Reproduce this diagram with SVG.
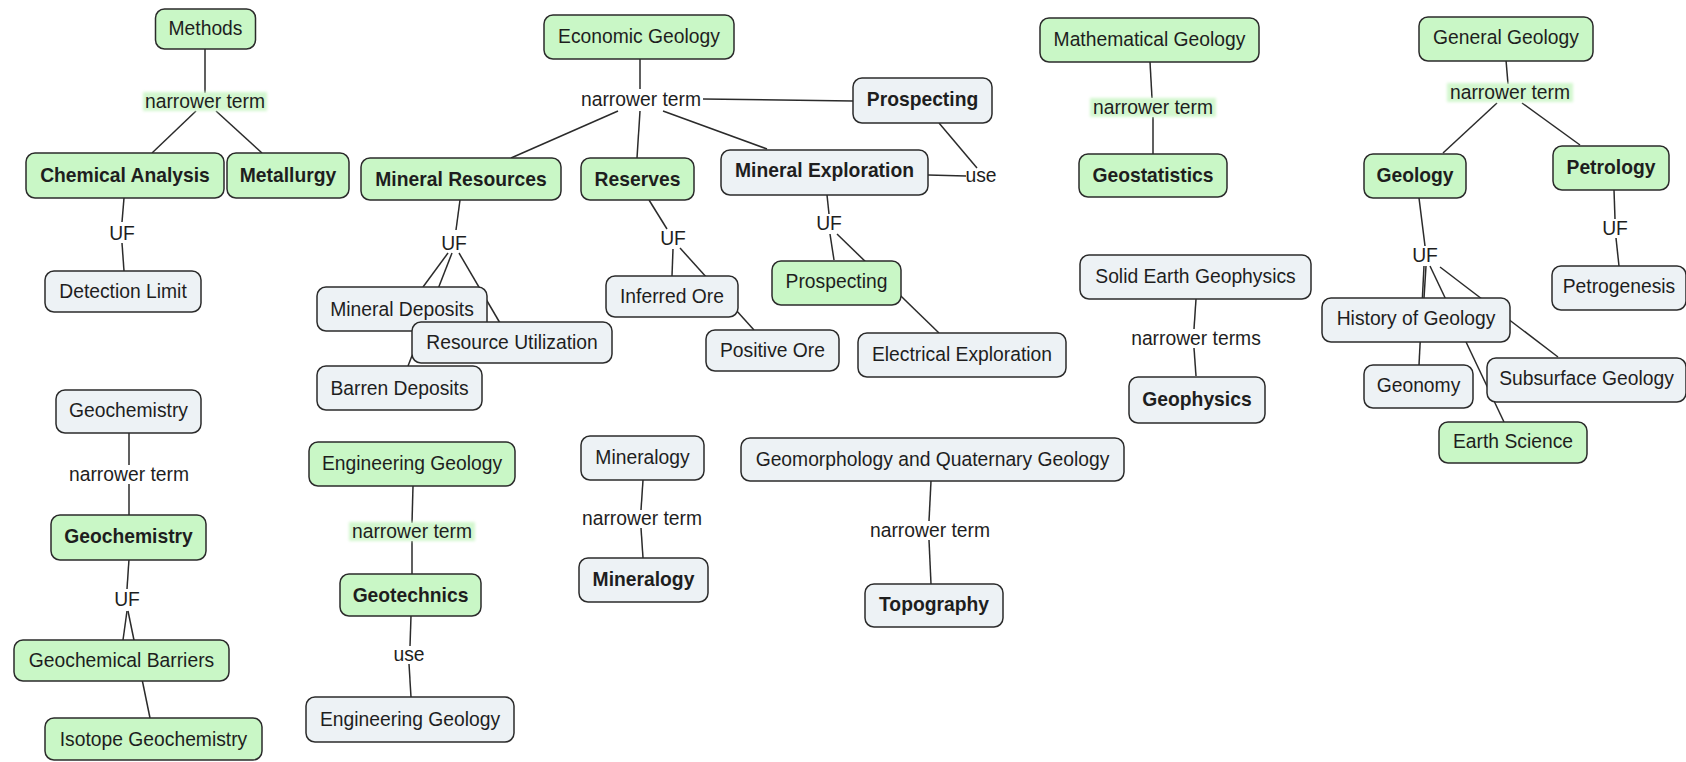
<svg xmlns="http://www.w3.org/2000/svg" width="1686" height="762" viewBox="0 0 1686 762">
  <defs>
    <filter id="soft" x="-10%" y="-40%" width="120%" height="180%">
      <feGaussianBlur stdDeviation="1.6"/>
    </filter>
    <style>
      .node rect { stroke: #2b2b2b; stroke-width: 1.5; }
      .g rect { fill: #c9f7c6; }
      .w rect { fill: #edf2f5; }
      text { font-family: "Liberation Sans", Arial, Helvetica, sans-serif; font-size: 19.3px; fill: #1e1e1e; text-anchor: middle; }
      .b text { font-weight: bold; }
      .links line { stroke: #2b2b2b; stroke-width: 1.5; fill: none; }
      .hl { fill: #d3f7cf; filter: url(#soft); }
    </style>
  </defs>
  <rect width="1686" height="762" fill="#ffffff"/>

  <!-- connectors -->
  <g id="connectors" class="links">
    <!-- Methods -->
    <line x1="205" y1="49" x2="205" y2="93"/>
    <line x1="196" y1="111" x2="152" y2="153"/>
    <line x1="216" y1="111" x2="262" y2="153"/>
    <line x1="124" y1="198" x2="122" y2="222"/>
    <line x1="122" y1="243" x2="124" y2="271"/>
    <!-- Economic Geology -->
    <line x1="640" y1="59" x2="640" y2="89"/>
    <line x1="703" y1="99" x2="853" y2="101"/>
    <line x1="618" y1="111" x2="511" y2="158"/>
    <line x1="640" y1="111" x2="637" y2="158"/>
    <line x1="663" y1="111" x2="767" y2="149"/>
    <line x1="460" y1="200" x2="456" y2="230"/>
    <line x1="448" y1="253" x2="423" y2="287"/>
    <line x1="452" y1="253" x2="408" y2="366"/>
    <line x1="459" y1="253" x2="500" y2="323"/>
    <line x1="649" y1="200" x2="667" y2="229"/>
    <line x1="673" y1="249" x2="672" y2="276"/>
    <line x1="680" y1="248" x2="754" y2="330"/>
    <line x1="827" y1="195" x2="829" y2="214"/>
    <line x1="830" y1="234" x2="834" y2="260"/>
    <line x1="837" y1="234" x2="939" y2="333"/>
    <line x1="928" y1="175" x2="966" y2="176"/>
    <line x1="939" y1="123" x2="977" y2="168"/>
    <!-- Mathematical Geology -->
    <line x1="1150" y1="62" x2="1152" y2="98"/>
    <line x1="1153" y1="117" x2="1153" y2="154"/>
    <!-- Solid Earth Geophysics -->
    <line x1="1196" y1="299" x2="1194" y2="329"/>
    <line x1="1194" y1="348" x2="1196" y2="376"/>
    <!-- General Geology -->
    <line x1="1506" y1="60" x2="1508" y2="84"/>
    <line x1="1497" y1="103" x2="1443" y2="153"/>
    <line x1="1522" y1="103" x2="1580" y2="145"/>
    <line x1="1614" y1="190" x2="1615" y2="219"/>
    <line x1="1616" y1="238" x2="1619" y2="266"/>
    <line x1="1419" y1="198" x2="1425" y2="246"/>
    <line x1="1424" y1="266" x2="1419" y2="365"/>
    <line x1="1426" y1="266" x2="1424" y2="298"/>
    <line x1="1430" y1="266" x2="1504" y2="422"/>
    <line x1="1440" y1="267" x2="1558" y2="357"/>
    <!-- Geochemistry -->
    <line x1="129" y1="433" x2="129" y2="465"/>
    <line x1="129" y1="484" x2="129" y2="515"/>
    <line x1="129" y1="559" x2="127" y2="589"/>
    <line x1="127" y1="611" x2="123" y2="640"/>
    <line x1="128" y1="611" x2="150" y2="718"/>
    <!-- Engineering Geology -->
    <line x1="413" y1="486" x2="412" y2="523"/>
    <line x1="412" y1="541" x2="412" y2="574"/>
    <line x1="411" y1="616" x2="410" y2="646"/>
    <line x1="409" y1="664" x2="411" y2="697"/>
    <!-- Mineralogy -->
    <line x1="643" y1="480" x2="641" y2="510"/>
    <line x1="641" y1="528" x2="643" y2="558"/>
    <!-- Geomorphology -->
    <line x1="931" y1="481" x2="929" y2="521"/>
    <line x1="929" y1="540" x2="931" y2="584"/>
  </g>

  <!-- connector labels -->
  <g id="link-labels">
    <rect class="hl" x="143" y="92" width="124" height="19"/>
    <text x="205" y="107.5">narrower term</text>
    <text x="122" y="239.5">UF</text>
    <text x="641" y="105.5">narrower term</text>
    <text x="454" y="249.5">UF</text>
    <text x="673" y="244.5">UF</text>
    <text x="829" y="230">UF</text>
    <text x="981" y="182">use</text>
    <rect class="hl" x="1090" y="98" width="126" height="19"/>
    <text x="1153" y="113.5">narrower term</text>
    <text x="1196" y="344.5">narrower terms</text>
    <rect class="hl" x="1447" y="83" width="126" height="19"/>
    <text x="1510" y="98.5">narrower term</text>
    <text x="1615" y="234.5">UF</text>
    <text x="1425" y="261.5">UF</text>
    <text x="129" y="480.5">narrower term</text>
    <text x="127" y="605.5">UF</text>
    <rect class="hl" x="349" y="522" width="126" height="19"/>
    <text x="412" y="537.5">narrower term</text>
    <text x="409" y="661">use</text>
    <text x="642" y="524.5">narrower term</text>
    <text x="930" y="536.5">narrower term</text>
  </g>

  <!-- nodes -->
  <g id="methods" class="node g"><rect x="155.5" y="9" width="100" height="40" rx="9"/><text x="205.5" y="35">Methods</text></g>
  <g id="chemical-analysis" class="node g b"><rect x="26" y="153" width="198" height="45" rx="9"/><text x="125" y="182">Chemical Analysis</text></g>
  <g id="metallurgy" class="node g b"><rect x="227" y="153" width="122" height="45" rx="9"/><text x="288" y="182">Metallurgy</text></g>
  <g id="detection-limit" class="node w"><rect x="45" y="271" width="156" height="41" rx="9"/><text x="123" y="298">Detection Limit</text></g>

  <g id="economic-geology" class="node g"><rect x="544" y="15" width="190" height="44" rx="9"/><text x="639" y="42.5">Economic Geology</text></g>
  <g id="prospecting-main" class="node w b"><rect x="853" y="78" width="139" height="45" rx="9"/><text x="922.5" y="106">Prospecting</text></g>
  <g id="mineral-resources" class="node g b"><rect x="361" y="158" width="200" height="42" rx="9"/><text x="461" y="186">Mineral Resources</text></g>
  <g id="reserves" class="node g b"><rect x="581" y="158" width="113" height="42" rx="9"/><text x="637.5" y="186">Reserves</text></g>
  <g id="mineral-exploration" class="node w b"><rect x="721" y="150" width="207" height="45" rx="9"/><text x="824.5" y="177">Mineral Exploration</text></g>
  <g id="mineral-deposits" class="node w"><rect x="317" y="287" width="170" height="44" rx="9"/><text x="402" y="316">Mineral Deposits</text></g>
  <g id="resource-utilization" class="node w"><rect x="412" y="322" width="200" height="41" rx="9"/><text x="512" y="349">Resource Utilization</text></g>
  <g id="barren-deposits" class="node w"><rect x="317" y="366" width="165" height="44" rx="9"/><text x="399.5" y="394.5">Barren Deposits</text></g>
  <g id="inferred-ore" class="node w"><rect x="606" y="276" width="132" height="41" rx="9"/><text x="672" y="303">Inferred Ore</text></g>
  <g id="positive-ore" class="node w"><rect x="706" y="330" width="133" height="41" rx="9"/><text x="772.5" y="357">Positive Ore</text></g>
  <g id="prospecting-uf" class="node g"><rect x="772" y="261" width="129" height="44" rx="9"/><text x="836.5" y="288">Prospecting</text></g>
  <g id="electrical-exploration" class="node w"><rect x="858" y="333" width="208" height="44" rx="9"/><text x="962" y="360.5">Electrical Exploration</text></g>

  <g id="mathematical-geology" class="node g"><rect x="1040" y="18" width="219" height="44" rx="9"/><text x="1149.5" y="45.5">Mathematical Geology</text></g>
  <g id="geostatistics" class="node g b"><rect x="1079" y="154" width="148" height="43" rx="9"/><text x="1153" y="182">Geostatistics</text></g>
  <g id="solid-earth-geophysics" class="node w"><rect x="1080" y="255" width="231" height="44" rx="9"/><text x="1195.5" y="283">Solid Earth Geophysics</text></g>
  <g id="geophysics" class="node w b"><rect x="1129" y="377" width="136" height="46" rx="9"/><text x="1197" y="406">Geophysics</text></g>

  <g id="general-geology" class="node g"><rect x="1419" y="17" width="174" height="44" rx="9"/><text x="1506" y="44">General Geology</text></g>
  <g id="geology" class="node g b"><rect x="1364" y="154" width="102" height="44" rx="9"/><text x="1415" y="182">Geology</text></g>
  <g id="petrology" class="node g b"><rect x="1553" y="146" width="116" height="44" rx="9"/><text x="1611" y="174">Petrology</text></g>
  <g id="petrogenesis" class="node w"><rect x="1552" y="266" width="134" height="44" rx="9"/><text x="1619" y="293">Petrogenesis</text></g>
  <g id="history-of-geology" class="node w"><rect x="1322" y="298" width="188" height="44" rx="9"/><text x="1416" y="325">History of Geology</text></g>
  <g id="geonomy" class="node w"><rect x="1364" y="365" width="109" height="43" rx="9"/><text x="1418.5" y="392">Geonomy</text></g>
  <g id="subsurface-geology" class="node w"><rect x="1487" y="358" width="199" height="44" rx="9"/><text x="1586.5" y="385">Subsurface Geology</text></g>
  <g id="earth-science" class="node g"><rect x="1439" y="422" width="148" height="41" rx="9"/><text x="1513" y="448">Earth Science</text></g>

  <g id="geochemistry-top" class="node w"><rect x="56" y="390" width="145" height="43" rx="9"/><text x="128.5" y="417">Geochemistry</text></g>
  <g id="geochemistry" class="node g b"><rect x="51" y="515" width="155" height="45" rx="9"/><text x="128.5" y="543">Geochemistry</text></g>
  <g id="geochemical-barriers" class="node g"><rect x="14" y="640" width="215" height="41" rx="9"/><text x="121.5" y="667">Geochemical Barriers</text></g>
  <g id="isotope-geochemistry" class="node g"><rect x="45" y="718" width="217" height="42" rx="9"/><text x="153.5" y="745.5">Isotope Geochemistry</text></g>

  <g id="engineering-geology-top" class="node g"><rect x="309" y="442" width="206" height="44" rx="9"/><text x="412" y="470">Engineering Geology</text></g>
  <g id="geotechnics" class="node g b"><rect x="340" y="574" width="141" height="42" rx="9"/><text x="410.5" y="602">Geotechnics</text></g>
  <g id="engineering-geology" class="node w"><rect x="306" y="697" width="208" height="45" rx="9"/><text x="410" y="726">Engineering Geology</text></g>

  <g id="mineralogy-top" class="node w"><rect x="581" y="436" width="123" height="44" rx="9"/><text x="642.5" y="464">Mineralogy</text></g>
  <g id="mineralogy" class="node w b"><rect x="579" y="558" width="129" height="44" rx="9"/><text x="643.5" y="586">Mineralogy</text></g>

  <g id="geomorphology" class="node w"><rect x="741" y="438" width="383" height="43" rx="9"/><text x="932.5" y="466">Geomorphology and Quaternary Geology</text></g>
  <g id="topography" class="node w b"><rect x="865" y="584" width="138" height="43" rx="9"/><text x="934" y="610.5">Topography</text></g>
</svg>
